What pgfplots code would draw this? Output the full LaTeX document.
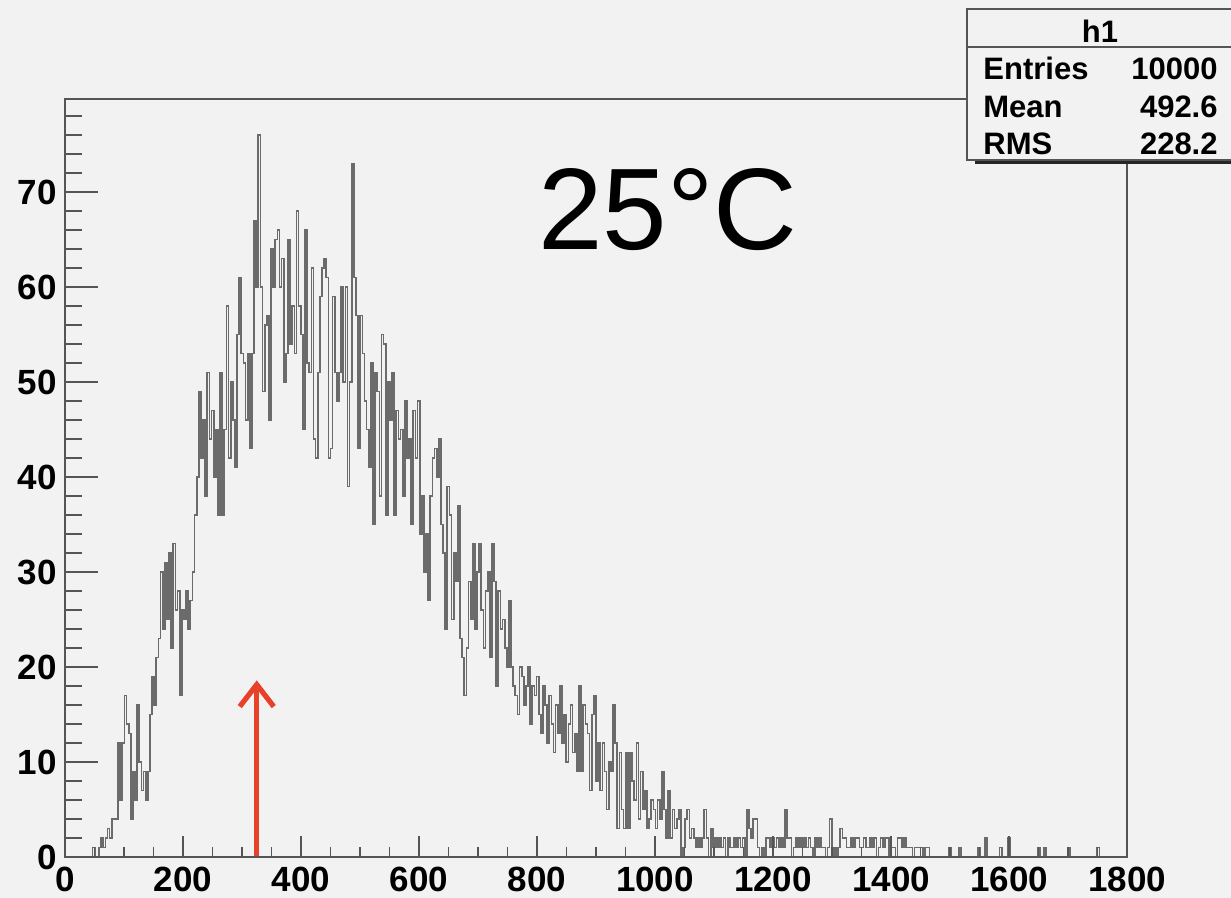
\documentclass[border=0pt]{standalone}
\usepackage{fontspec}
\setmainfont{Liberation Sans}
\usepackage{pgfplots}
\usepackage{pgfplotstable}
\pgfplotsset{compat=1.18}
\usetikzlibrary{arrows.meta}
\definecolor{bg}{HTML}{F2F2F2}
\definecolor{framec}{HTML}{555555}
\definecolor{arrowred}{HTML}{E8412A}

% histogram h1: 500 bins of width 3.6 on [0,1800]
\pgfplotstableread[row sep=\\]{
c\\
0\\0\\0\\0\\0\\0\\0\\0\\0\\0\\
0\\0\\0\\1\\0\\0\\1\\2\\1\\2\\
3\\2\\4\\4\\4\\12\\6\\12\\17\\14\\
13\\4\\9\\6\\16\\10\\7\\9\\6\\9\\
15\\19\\16\\21\\23\\30\\24\\31\\25\\32\\
22\\33\\26\\28\\17\\26\\25\\28\\24\\27\\
30\\36\\40\\49\\42\\46\\38\\51\\44\\47\\
40\\45\\36\\51\\36\\45\\58\\42\\50\\46\\
41\\55\\61\\53\\52\\46\\53\\43\\53\\67\\
60\\76\\60\\49\\56\\57\\46\\64\\60\\65\\
66\\60\\63\\50\\53\\65\\54\\58\\53\\68\\
58\\55\\45\\66\\52\\51\\62\\44\\42\\51\\
59\\62\\63\\61\\42\\43\\59\\51\\48\\51\\
60\\50\\60\\39\\50\\73\\61\\57\\43\\57\\
53\\48\\45\\41\\52\\35\\51\\49\\38\\55\\
54\\36\\50\\46\\51\\36\\47\\44\\45\\38\\
48\\42\\44\\35\\47\\42\\48\\34\\38\\30\\
34\\27\\38\\42\\43\\40\\44\\35\\32\\24\\
39\\36\\25\\32\\29\\37\\23\\21\\17\\22\\
29\\25\\33\\24\\30\\33\\26\\22\\28\\30\\
21\\33\\29\\18\\28\\24\\25\\22\\20\\27\\
20\\18\\17\\15\\20\\19\\16\\18\\20\\14\\
18\\17\\19\\15\\13\\18\\16\\12\\17\\14\\
11\\16\\13\\18\\12\\15\\10\\14\\16\\11\\
13\\9\\18\\9\\16\\14\\13\\7\\15\\17\\
8\\12\\7\\12\\9\\5\\10\\9\\16\\12\\
3\\11\\5\\3\\11\\3\\11\\8\\6\\12\\
4\\9\\5\\7\\3\\4\\6\\5\\3\\6\\
4\\9\\5\\2\\7\\2\\5\\3\\4\\5\\
0\\1\\4\\5\\2\\3\\2\\1\\2\\1\\
2\\5\\2\\0\\3\\1\\2\\1\\2\\1\\
2\\0\\2\\1\\1\\2\\1\\2\\1\\2\\
0\\5\\3\\2\\4\\4\\1\\0\\1\\0\\
2\\2\\1\\2\\1\\2\\1\\2\\1\\5\\
2\\2\\0\\1\\2\\1\\2\\1\\2\\1\\
2\\1\\0\\2\\1\\2\\1\\1\\0\\1\\
4\\0\\1\\0\\1\\3\\2\\2\\1\\1\\
2\\1\\2\\2\\1\\1\\2\\1\\1\\2\\
1\\2\\0\\1\\2\\1\\2\\2\\0\\1\\
1\\0\\2\\2\\1\\2\\1\\1\\1\\0\\
1\\1\\1\\1\\0\\1\\1\\0\\0\\0\\
0\\0\\0\\0\\0\\0\\1\\0\\0\\0\\
0\\1\\0\\0\\0\\0\\0\\0\\0\\0\\
1\\0\\0\\2\\0\\0\\0\\0\\0\\0\\
1\\0\\0\\0\\2\\0\\0\\0\\0\\0\\
0\\0\\0\\0\\0\\0\\0\\0\\1\\0\\
0\\1\\0\\0\\0\\0\\0\\0\\0\\0\\
0\\0\\1\\0\\0\\0\\0\\0\\0\\0\\
0\\0\\0\\0\\0\\0\\1\\0\\0\\0\\
0\\0\\0\\0\\0\\0\\0\\0\\0\\0\\
0\\
}\histtable

\pgfplotsset{
  rootaxis/.style={
    at={(0pt,0pt)}, anchor=south west,
    scale only axis, width=531pt, height=379pt,
    xmin=0, xmax=1800, ymin=0, ymax=79.8,
    axis line style={framec, line width=0.8pt},
    tick align=inside, tick pos=left,
    tick style={framec, line width=0.7pt},
    ticklabel style={font=\fontsize{17.5}{20}\selectfont\bfseries, inner sep=0pt, text=black},
    /pgf/number format/assume math mode=true,
    /pgf/number format/1000 sep={},
    clip=true,
  }
}

\begin{document}
\begin{tikzpicture}
\useasboundingbox (-32.5pt,-20.5pt) rectangle (583pt,428.5pt);
\fill[bg] (-32.5pt,-20.5pt) rectangle (583pt,428.5pt);

\begin{axis}[rootaxis,
  xtick=\empty,
  ytick={0,10,...,70},
  minor ytick={2,4,...,78},
  major tick length=16.5pt, minor tick length=8.5pt,
  yticklabel shift=4pt]
  \addplot[const plot, black!58, line width=0.85pt] table[x expr=\coordindex*3.6, y=c] {\histtable};
  \draw[arrowred, line width=2.6pt, -{Straight Barb[length=11pt,width=17pt]}] (axis cs:325,0) -- (axis cs:325,18.6);
\end{axis}

\begin{axis}[rootaxis,
  ytick=\empty,
  xtick={0,200,...,1800},
  minor xtick={50,100,...,1750},
  major tick length=10.5pt, minor tick length=5pt,
  xticklabel shift=5pt]
\end{axis}

\node[font=\fontsize{58}{66}\selectfont, anchor=base, inner sep=0pt] at (301.5pt,303.5pt) {25°C};

% stats box
\fill[black!85] (455pt,346.6pt) rectangle (600pt,348.6pt);
\filldraw[fill=bg, draw=framec, line width=0.7pt] (451pt,348.5pt) rectangle (600pt,424pt);
\draw[framec, line width=0.7pt] (451pt,405pt) -- (600pt,405pt);
\begin{scope}[every node/.style={font=\fontsize{15.5}{18}\selectfont\bfseries, inner sep=0pt}]
\node[anchor=base] at (517.5pt,407.2pt) {h1};
\node[anchor=base west] at (459pt,388.5pt) {Entries};
\node[anchor=base east] at (576.5pt,388.5pt) {10000};
\node[anchor=base west] at (459pt,369.5pt) {Mean};
\node[anchor=base east] at (576.5pt,369.5pt) {492.6};
\node[anchor=base west] at (459pt,351pt) {RMS};
\node[anchor=base east] at (576.5pt,351pt) {228.2};
\end{scope}
\end{tikzpicture}
\end{document}
